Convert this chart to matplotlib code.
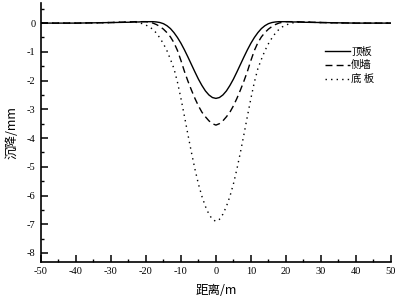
import matplotlib
matplotlib.use("Agg")
import matplotlib.pyplot as plt
import numpy as np
from matplotlib.ticker import MultipleLocator

plt.rcParams['axes.unicode_minus'] = False

# distance from centre (m), one side; curves are symmetric
x_half = [0, 1, 2, 3, 4, 5, 6, 7, 8, 9, 10, 11, 12, 13, 14, 15, 16, 17, 18, 19, 20, 21, 22, 23, 25, 30, 35, 40, 45, 50]
top_half = [-2.62, -2.59, -2.50, -2.36, -2.17, -1.95, -1.70, -1.44, -1.18, -0.93, -0.70, -0.50, -0.33, -0.19,
            -0.09, -0.02, 0.02, 0.04, 0.05, 0.05, 0.05, 0.05, 0.04, 0.04, 0.03, 0.02, 0.01, 0.0, 0.0, 0.0]
wall_half = [-3.55, -3.50, -3.40, -3.26, -3.10, -2.88, -2.62, -2.33, -2.02, -1.68, -1.30, -0.95, -0.68, -0.48,
             -0.33, -0.21, -0.12, -0.05, 0.0, 0.03, 0.05, 0.05, 0.05, 0.05, 0.04, 0.02, 0.01, 0.0, 0.0, 0.0]
bottom_half = [-6.90, -6.83, -6.65, -6.38, -6.03, -5.60, -5.08, -4.50, -3.88, -3.24, -2.62, -2.05, -1.58, -1.26,
               -0.96, -0.72, -0.52, -0.35, -0.22, -0.13, -0.07, -0.02, 0.01, 0.03, 0.04, 0.02, 0.01, 0.0, 0.0, 0.0]

labels = ['顶板', '侧墙', '底 板']

def mirror(xs, ys):
    xs = np.array(xs, float); ys = np.array(ys, float)
    return np.concatenate([-xs[:0:-1], xs]), np.concatenate([ys[:0:-1], ys])

fig = plt.figure(figsize=(3.98, 3.0), dpi=100)
ax = fig.add_axes([0.103, 0.128, 0.879, 0.862])

serif = ['Liberation Serif', 'Noto Sans CJK SC']
cjk = ['Noto Sans CJK SC', 'Liberation Serif']

styles = ['-', (0, (5, 3)), (0, (1, 3))]
for ys, lab, ls in zip([top_half, wall_half, bottom_half], labels, styles):
    xx, yy = mirror(x_half, ys)
    ax.plot(xx, yy, color='black', lw=1.0, linestyle=ls, label=lab)

ax.set_xlim(-50, 50)
ax.set_ylim(-8.3, 0.7)
ax.xaxis.set_major_locator(MultipleLocator(10))
ax.xaxis.set_minor_locator(MultipleLocator(5))
ax.yaxis.set_major_locator(MultipleLocator(1))
ax.yaxis.set_minor_locator(MultipleLocator(0.5))
ax.spines['top'].set_visible(False)
ax.spines['right'].set_visible(False)
for s in ['left', 'bottom']:
    ax.spines[s].set_linewidth(1.2)
ax.tick_params(which='major', direction='in', length=5, width=1.1, labelsize=7.5, pad=4)
ax.tick_params(which='minor', direction='in', length=2.5, width=1.0)
for t in ax.get_xticklabels() + ax.get_yticklabels():
    t.set_fontfamily(serif)

ax.set_xlabel('距离/m', fontsize=9, family=cjk, labelpad=6)
ax.set_ylabel('沉降/mm', fontsize=9, family=cjk, labelpad=6)

leg = ax.legend(loc='upper left', bbox_to_anchor=(0.80, 0.848), frameon=False,
                prop={'family': cjk, 'size': 7.5}, handlelength=2.4, handletextpad=0.1,
                labelspacing=0.35, borderaxespad=0)

fig.savefig('out.png', dpi=100)
